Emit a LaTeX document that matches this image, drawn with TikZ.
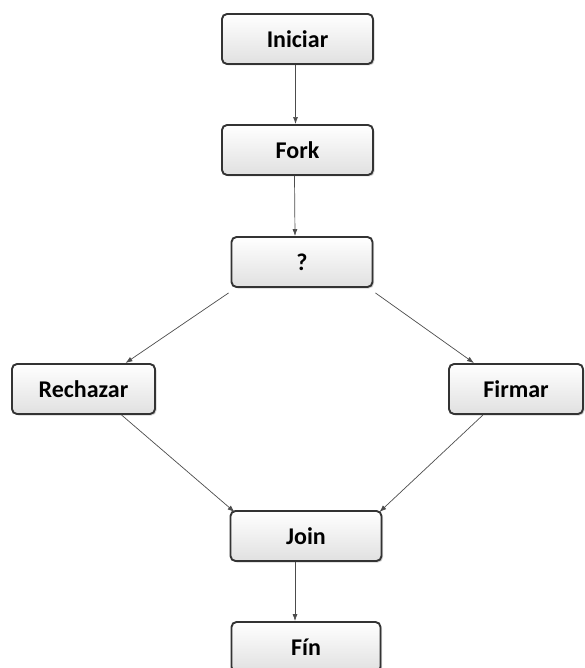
\documentclass[tikz,border=0pt]{standalone}
\usepackage{fontspec}
\setmainfont{Carlito}
\usetikzlibrary{arrows.meta,shadows}
\begin{document}
\begin{tikzpicture}[x=1pt,y=-1pt,
  stepbox/.style={draw=black!80, line width=1.9pt, rounded corners=5pt,
    top color=white, bottom color=black!12, drop shadow={shadow xshift=1.5pt,shadow yshift=-1.5pt,opacity=0.35},
    minimum height=50pt, inner sep=0pt, font=\bfseries\fontsize{24}{28}\selectfont},
  flow/.style={draw=black!70, line width=0.7pt, -{Latex[length=7pt,width=5pt]}}]
\useasboundingbox (0,0) rectangle (584,668);
\node[stepbox, minimum width=151pt] (ini) at (297.5,39) {Iniciar};
\node[stepbox, minimum width=151pt] (fork) at (297.5,150) {Fork};
\node[stepbox, minimum width=141pt] (q) at (302,262) {?};
\node[stepbox, minimum width=143pt] (rech) at (83.5,389) {Rechazar};
\node[stepbox, minimum width=134pt] (firm) at (516,389) {Firmar};
\node[stepbox, minimum width=151pt] (join) at (306,536) {Join};
\node[stepbox, minimum width=149pt] (fin) at (306,647) {Fín};
\draw[flow] ([xshift=-2pt]ini.south) -- ([xshift=-2pt]fork.north);
\draw[flow] ([xshift=-3pt]fork.south) -- ([xshift=-7pt]q.north);
\draw[flow] ([xshift=-2pt,yshift=-5pt]q.south west) -- ([xshift=42pt]rech.north);
\draw[flow] ([xshift=2pt,yshift=-5pt]q.south east) -- ([xshift=-42pt]firm.north);
\draw[flow] ([xshift=38pt]rech.south) -- ([xshift=5pt,yshift=-2pt]join.north west);
\draw[flow] ([xshift=-33pt]firm.south) -- ([xshift=-3pt,yshift=-2pt]join.north east);
\draw[flow] ([xshift=-11pt]join.south) -- ([xshift=-11pt]fin.north);
\end{tikzpicture}
\end{document}
